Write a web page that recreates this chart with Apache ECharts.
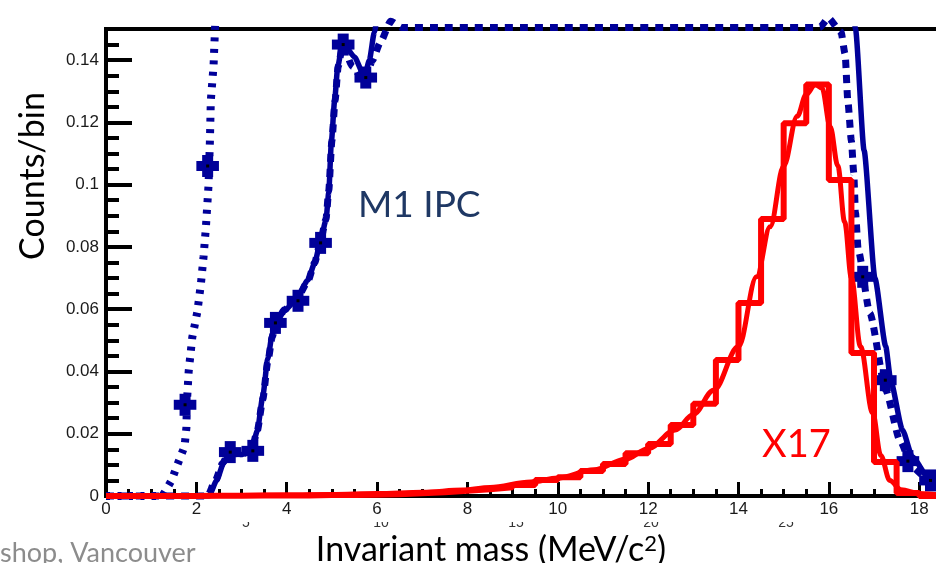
<!DOCTYPE html>
<html>
<head>
<meta charset="utf-8">
<script src="https://cdn.jsdelivr.net/npm/echarts@6/dist/echarts.min.js"></script>
<style>
  html, body { margin: 0; padding: 0; background: #fff; overflow: hidden; }
  #chart { width: 1022px; height: 563px; }
</style>
</head>
<body>
<div id="chart"></div>
<script>
// Tick labels
const xTickLabels = ['0', '2', '4', '6', '8', '10', '12', '14', '16', '18', '20'];
const yTickLabels = ['0', '0.02', '0.04', '0.06', '0.08', '0.1', '0.12', '0.14'];

// Steep dotted curve on the left (low-mass component)
const dottedCurve = [[0, 0], [1.25, 0], [1.45, 0.005], [1.58, 0.01], [1.74, 0.016], [1.78, 0.022],
  [1.79, 0.03], [1.83, 0.04], [1.91, 0.051], [2.02, 0.059], [2.1, 0.068], [2.16, 0.077],
  [2.21, 0.086], [2.27, 0.1], [2.3, 0.114], [2.32, 0.127], [2.38, 0.138], [2.41, 0.149], [2.44, 0.16]];
const dottedPoints = [[1.75, 0.0293], [2.25, 0.106]];

// M1 IPC: solid and dashed model curves plus binned points
const m1Solid = [[0, 0], [2.28, 0], [2.45, 0.005], [2.6, 0.0105], [2.72, 0.0138], [3.0, 0.0133],
  [3.22, 0.0145], [3.35, 0.021], [3.47, 0.032], [3.58, 0.044], [3.68, 0.052], [3.76, 0.0556],
  [3.95, 0.0595], [4.21, 0.063], [4.47, 0.0694], [4.62, 0.0749], [4.74, 0.0813], [4.87, 0.0887],
  [4.93, 0.0974], [4.99, 0.114], [5.06, 0.127], [5.13, 0.138], [5.24, 0.1456], [5.5, 0.141],
  [5.72, 0.1347], [5.83, 0.14], [5.94, 0.149], [6.05, 0.158], [6.3, 0.18], [16.4, 0.18],
  [16.52, 0.16], [16.59, 0.15], [16.78, 0.111], [17.02, 0.07], [17.26, 0.048], [17.37, 0.037],
  [17.63, 0.0212], [17.85, 0.0125], [18.2, 0.006], [18.6, 0.003]];
const m1Dashed = [[0, 0], [2.25, 0], [2.42, 0.005], [2.58, 0.0105], [2.72, 0.0138], [3.0, 0.0135],
  [3.22, 0.0145], [3.35, 0.021], [3.47, 0.031], [3.58, 0.043], [3.68, 0.051], [3.76, 0.0556],
  [3.95, 0.0598], [4.21, 0.0628], [4.47, 0.069], [4.62, 0.075], [4.74, 0.0813], [4.87, 0.089],
  [4.93, 0.098], [5.0, 0.114], [5.07, 0.127], [5.14, 0.138], [5.24, 0.145], [5.45, 0.138],
  [5.72, 0.133], [5.9, 0.14], [6.07, 0.1456], [6.3, 0.1525], [6.55, 0.1505], [15.8, 0.1505],
  [15.99, 0.1535], [16.27, 0.149], [16.36, 0.142], [16.42, 0.127], [16.5, 0.114], [16.55, 0.104],
  [16.59, 0.091], [16.65, 0.079], [16.91, 0.0586], [17.26, 0.034], [17.57, 0.018], [17.85, 0.0093],
  [18.14, 0.006], [18.6, 0.003]];
const m1Points = [[2.75, 0.0141], [3.25, 0.0145], [3.75, 0.0556], [4.25, 0.0627], [4.75, 0.0813],
  [5.25, 0.145], [5.75, 0.1344], [16.75, 0.0704], [17.25, 0.0372], [17.75, 0.0112], [18.25, 0.005]];
const binWidth = 0.5;

// X17: histogram (bin low edge, content) and smooth fit
const x17Bins = [[0, 0], [0.5, 0], [1, 0], [1.5, 0], [2, 0.0001], [2.5, 0.0001], [3, 0.0002],
  [3.5, 0.0002], [4, 0.0002], [4.5, 0.0003], [5, 0.0003], [5.5, 0.0004], [6, 0.0006],
  [6.5, 0.0009], [7, 0.0012], [7.5, 0.0017], [8, 0.0022], [8.5, 0.0028], [9, 0.0035],
  [9.5, 0.0051], [10, 0.006], [10.5, 0.008], [11, 0.0103], [11.5, 0.0137], [12, 0.0167],
  [12.5, 0.0228], [13, 0.0296], [13.5, 0.0437], [14, 0.062], [14.5, 0.089], [15, 0.1197],
  [15.5, 0.1322], [16, 0.1015], [16.5, 0.0459], [17, 0.0109], [17.5, 0.001], [18, 0], [18.5, 0], [19, 0]];
const x17Fit = [[0, 0], [2, 0.0001], [4, 0.0003], [5, 0.0005], [6, 0.0008], [7, 0.0012],
  [7.9, 0.0019], [8.5, 0.0027], [9.4, 0.0045], [10, 0.0058], [10.8, 0.0084], [11.5, 0.0118],
  [12, 0.0152], [12.6, 0.0212], [13.0, 0.0262], [13.45, 0.034], [14.0, 0.048], [14.4, 0.0704],
  [14.7, 0.0865], [15.0, 0.106], [15.3, 0.122], [15.5, 0.129], [15.7, 0.1322], [15.85, 0.131],
  [16.03, 0.1186], [16.2, 0.106], [16.35, 0.088], [16.5, 0.07], [16.7, 0.048], [16.97, 0.0267],
  [17.15, 0.013], [17.35, 0.005], [17.6, 0.002], [18.0, 0.0008], [18.5, 0.0003]];

// Faint labels of a second, partly hidden scale under the axis
const hiddenScaleLabels = ['5', '10', '15', '20', '25'];

const BLUE = '#000099';
const RED = '#ff0000';
const LABEL_FONT = 'Liberation Sans';
const TITLE_FONT = 'Lato';

function binPoint(params, api) {
  const x = api.value(0), y = api.value(1);
  const c = api.coord([x, y]);
  const l = api.coord([x - binWidth / 2, y]);
  const r = api.coord([x + binWidth / 2, y]);
  return {
    type: 'group',
    children: [
      { type: 'rect', shape: { x: l[0], y: c[1] - 5, width: r[0] - l[0], height: 10 }, style: { fill: BLUE } },
      { type: 'rect', shape: { x: c[0] - 5.5, y: c[1] - 11, width: 11, height: 22 }, style: { fill: BLUE } },
      { type: 'rect', shape: { x: c[0] - 1.5, y: c[1] - 1.5, width: 3, height: 3 }, style: { fill: '#000' } }
    ]
  };
}

const chart = echarts.init(document.getElementById('chart'), null, { renderer: 'canvas' });

const hiddenScaleText = hiddenScaleLabels.map((t, i) => ({
  type: 'text', x: 246 + i * 135, y: 530, z: 10,
  style: { text: t, font: '14px "' + LABEL_FONT + '"', fill: '#333', align: 'center', verticalAlign: 'bottom' }
}));

chart.setOption({
  animation: false,
  backgroundColor: '#fff',
  grid: { left: 106, top: 29, right: 4, bottom: 67, show: true, borderColor: '#000', borderWidth: 4, backgroundColor: 'transparent' },
  xAxis: {
    type: 'value', min: 0, max: 20, interval: 2,
    axisLine: { show: true, onZero: false, lineStyle: { color: '#000', width: 4 } },
    axisTick: { show: true, inside: true, length: 14, lineStyle: { color: '#000', width: 3 } },
    minorTick: { show: true, splitNumber: 4, length: 7, lineStyle: { color: '#000', width: 3 } },
    axisLabel: {
      margin: 5, color: '#1a1a1a', fontFamily: LABEL_FONT, fontSize: 17,
      formatter: v => { const i = Math.round(v / 2); return xTickLabels[i] !== undefined ? xTickLabels[i] : ''; }
    },
    splitLine: { show: false }, minorSplitLine: { show: false }
  },
  yAxis: [
    {
      type: 'value', min: 0, max: 0.15, interval: 0.02,
      axisLine: { show: true, onZero: false, lineStyle: { color: '#000', width: 4 } },
      axisTick: { show: true, inside: true, length: 26, lineStyle: { color: '#000', width: 4 } },
      axisLabel: {
        margin: 7, color: '#1a1a1a', fontFamily: LABEL_FONT, fontSize: 17, showMaxLabel: false,
        formatter: v => { const i = Math.round(v / 0.02); return Math.abs(v - i * 0.02) < 1e-9 && yTickLabels[i] !== undefined ? yTickLabels[i] : ''; }
      },
      splitLine: { show: false }
    },
    {
      type: 'value', min: 0, max: 0.15, interval: 0.005, position: 'left',
      axisLine: { show: false },
      axisTick: { show: true, inside: true, length: 13, lineStyle: { color: '#000', width: 4 } },
      axisLabel: { show: false },
      splitLine: { show: false }
    }
  ],
  series: [
    {
      name: 'dotted', type: 'line', data: dottedCurve, showSymbol: false, clip: true, z: 2,
      lineStyle: { color: BLUE, width: 8, type: [4, 7.5] }
    },
    {
      name: 'M1 solid', type: 'line', data: m1Solid, showSymbol: false, clip: true, z: 3,
      smooth: 0.2, smoothMonotone: 'x',
      lineStyle: { color: BLUE, width: 5.5 }
    },
    {
      name: 'M1 dashed', type: 'line', data: m1Dashed, showSymbol: false, clip: false, z: 3,
      smooth: 0.2, smoothMonotone: 'x',
      lineStyle: { color: BLUE, width: 7, type: [8, 7] }
    },
    { name: 'dotted bins', type: 'custom', data: dottedPoints, renderItem: binPoint, z: 4 },
    { name: 'M1 bins', type: 'custom', data: m1Points, renderItem: binPoint, z: 4 },
    {
      name: 'X17 hist', type: 'line', data: x17Bins, step: 'end', showSymbol: false, clip: true, z: 5,
      lineStyle: { color: RED, width: 6 }
    },
    {
      name: 'X17 fit', type: 'line', data: x17Fit, showSymbol: false, clip: true, z: 5,
      smooth: 0.35, smoothMonotone: 'x',
      lineStyle: { color: RED, width: 5 }
    }
  ],
  graphic: [
    ...hiddenScaleText,
    { type: 'rect', z: 11, shape: { x: 200, y: 516, width: 640, height: 6 }, style: { fill: '#fff' } },
    {
      type: 'text', x: 33, y: 176, rotation: Math.PI / 2, z: 10,
      style: { text: 'Counts/bin', font: '34px "' + TITLE_FONT + '"', fill: '#000', align: 'center', verticalAlign: 'middle' }
    },
    {
      type: 'text', x: 491, y: 550, z: 10,
      style: {
        text: '{a|Invariant mass (MeV/c}{s|2}{a|)}', align: 'center', verticalAlign: 'middle',
        rich: {
          a: { fontFamily: TITLE_FONT, fontSize: 34, fill: '#000', color: '#000' },
          s: { fontFamily: TITLE_FONT, fontSize: 22, fill: '#000', color: '#000', verticalAlign: 'top' }
        }
      }
    },
    {
      type: 'text', x: 358, y: 205, z: 10,
      style: { text: 'M1 IPC', font: '37px "' + TITLE_FONT + '"', fill: '#1f3864', align: 'left', verticalAlign: 'middle' }
    },
    {
      type: 'text', x: 762, y: 445, z: 10,
      style: { text: 'X17', font: '38px "' + TITLE_FONT + '"', fill: RED, align: 'left', verticalAlign: 'middle' }
    },
    {
      type: 'text', x: 0, y: 553, z: 10,
      style: { text: 'shop, Vancouver', font: '27px "' + TITLE_FONT + '"', fill: '#8c8c8c', align: 'left', verticalAlign: 'middle' }
    }
  ]
});
</script>
</body>
</html>
